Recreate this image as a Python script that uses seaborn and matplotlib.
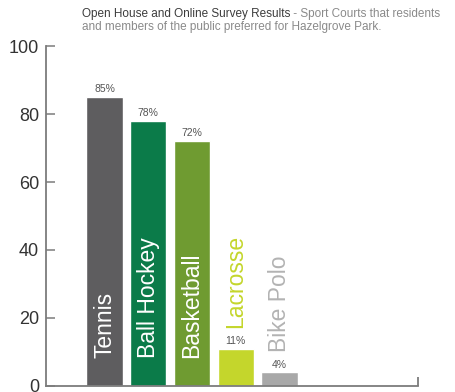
import matplotlib
matplotlib.use("Agg")
import matplotlib.pyplot as plt
import seaborn as sns
import pandas as pd

# Survey results: share of respondents preferring each sport court
sports = ["Tennis", "Ball Hockey", "Basketball", "Lacrosse", "Bike Polo"]
percent = [85, 78, 72, 11, 4]
bar_colors = ["#5e5d5f", "#0b7b49", "#6f9b31", "#c4d62c", "#a8a8a8"]
outside_label_colors = {"Lacrosse": "#c4d62c", "Bike Polo": "#b3b3b3"}
y_ticks = [0, 20, 40, 60, 80, 100]

title_lead = "Open House and Online Survey Results"
title_rest = " - Sport Courts that residents"
title_line2 = "and members of the public preferred for Hazelgrove Park."

sns.set_theme(style="white")
plt.rcParams["font.family"] = ["Liberation Sans", "DejaVu Sans"]

df = pd.DataFrame({"sport": sports, "percent": percent})

fig = plt.figure(figsize=(4.55, 3.92), dpi=100)
ax = fig.add_axes([46 / 455, 6 / 392, (418 - 46) / 455, (386 - 46) / 392])

sns.barplot(data=df, x="sport", y="percent", hue="sport",
            palette=bar_colors, order=sports, hue_order=sports,
            width=0.83, dodge=False, legend=False, saturation=1, ax=ax)

ax.set_xlim(-1.34, 7.17)
ax.set_ylim(0, 100)
ax.set_yticks(y_ticks)
ax.set_xticks([])
ax.set_xlabel("")
ax.set_ylabel("")

axis_gray = "#7c7c7c"
for side in ["top", "right"]:
    ax.spines[side].set_visible(False)
for side in ["left", "bottom"]:
    ax.spines[side].set_color(axis_gray)
    ax.spines[side].set_linewidth(1.3)
ax.tick_params(axis="y", direction="in", length=6.5, width=1.1, color=axis_gray,
               labelsize=13, labelcolor="#333333", pad=5, left=True)
# small upturned end cap on the right of the baseline
ax.plot([1, 1], [0, 0.027], transform=ax.transAxes, color=axis_gray,
        lw=1.3, clip_on=False, solid_capstyle="butt")

for i, (name, val) in enumerate(zip(sports, percent)):
    ax.annotate(f"{val}%", (i, val), xytext=(0, 2), textcoords="offset points",
                ha="center", va="bottom", fontsize=7.5, color="#555555")
    if name in outside_label_colors:
        ax.annotate(name, (i, val), xytext=(0, 14.5), textcoords="offset points",
                    ha="center", va="bottom", rotation=90, fontsize=16.5,
                    color=outside_label_colors[name])
    else:
        ax.text(i, 8.2, name, ha="center", va="bottom", rotation=90,
                fontsize=16.5, color="white")

# two-tone heading above the plot
t1 = fig.text(82 / 455, 1 - 13.5 / 392, title_lead, fontsize=8.5, color="#3c3c3c",
              va="center", ha="left")
fig.canvas.draw()
bb = t1.get_window_extent()
fig.text(bb.x1 / fig.bbox.width, 1 - 13.5 / 392, title_rest, fontsize=8.5,
         color="#8a8a8a", va="center", ha="left")
fig.text(82 / 455, 1 - 27 / 392, title_line2, fontsize=8.5, color="#8a8a8a",
         va="center", ha="left")

fig.savefig("out.png", dpi=100)
